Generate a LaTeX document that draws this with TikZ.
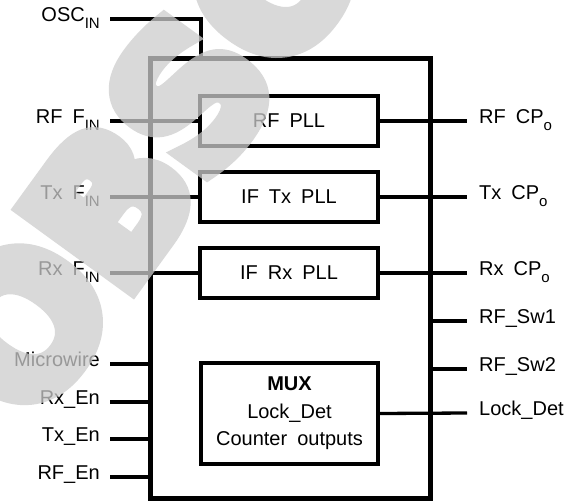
\documentclass[tikz,border=0pt]{standalone}
\usepackage{fontspec}
\setmainfont{Liberation Sans}[WordSpace=1.8]
\newfontfamily\wmfont{DejaVu Sans Bold}[FakeBold=10]
\newcommand\sbx[1]{\raisebox{-0.33em}{\fontsize{15}{15}\selectfont #1}}
\begin{document}
\begin{tikzpicture}[x=1pt,y=-1pt,
  box/.style={draw, line width=4.6pt, inner sep=0pt, outer sep=0pt, font=\fontsize{20}{27.5}\selectfont},
  wire/.style={line width=3.3pt},
  wirek/.style={line width=4.4pt},
  lbl/.style={inner sep=0pt, font=\fontsize{20}{24}\selectfont}]
\useasboundingbox (0,0) rectangle (567,501);
% blocks
\node[box, line width=5pt, minimum width=280pt, minimum height=440pt] (chip) at (290,278) {};
\node[box, minimum width=178pt, minimum height=50pt] (rfpll) at (289,121) {RF PLL};
\node[box, minimum width=178pt, minimum height=50pt] (txpll) at (289,197) {IF Tx PLL};
\node[box, minimum width=178pt, minimum height=50pt] (rxpll) at (289,273) {IF Rx PLL};
\node[box, minimum width=177pt, minimum height=101pt, align=center] (mux) at (289.5,413.5) {\textbf{MUX}\\Lock\_Det\\Counter outputs};
% left ends
\coordinate (osc) at (110,19);
\coordinate (oscj) at (201,58);
\coordinate (rfin) at (110,121);
\coordinate (txin) at (110,197);
\coordinate (rxin) at (110,273);
\coordinate (mw) at (110,364);
\coordinate (rxen) at (110,402);
\coordinate (txen) at (110,439);
\coordinate (rfen) at (110,477);
% right ends
\coordinate (rfcp) at (467,121);
\coordinate (txcp) at (467,197);
\coordinate (rxcp) at (467,273);
\coordinate (sw1) at (467,321);
\coordinate (sw2) at (467,369);
\coordinate (ld) at (467,413);
% left labels
\node[lbl, anchor=mid east] (loscl) at (100,19) {OSC\sbx{IN}};
\node[lbl, anchor=mid east] (lrfin) at (100,121) {RF F\sbx{IN}};
\node[lbl, anchor=mid east] (ltxin) at (100,197) {Tx F\sbx{IN}};
\node[lbl, anchor=mid east] (lrxin) at (100,273) {Rx F\sbx{IN}};
\node[lbl, anchor=mid east] (lmw) at (100,364) {Microwire};
\node[lbl, anchor=mid east] (lrxen) at (100,402) {Rx\_En};
\node[lbl, anchor=mid east] (ltxen) at (100,439) {Tx\_En};
\node[lbl, anchor=mid east] (lrfen) at (100,477) {RF\_En};
% right labels
\node[lbl, anchor=mid west] (lrfcp) at (479,121) {RF CP\sbx{o}};
\node[lbl, anchor=mid west] (ltxcp) at (479,197) {Tx CP\sbx{o}};
\node[lbl, anchor=mid west] (lrxcp) at (479,273) {Rx CP\sbx{o}};
\node[lbl, anchor=mid west] (lsw1) at (479,321) {RF\_Sw1};
\node[lbl, anchor=mid west] (lsw2) at (479,369) {RF\_Sw2};
\node[lbl, anchor=mid west] (lld) at (479,413) {Lock\_Det};
% wires
\draw[wire, line join=miter] (osc) -| (oscj);
\draw[wire] (rfin) -- (rfpll.west);
\draw[wire] (txin) -- (txpll.west);
\draw[wire] (rxin) -- (rxpll.west);
\draw[wire] (mw) -- (mw -| chip.west);
\draw[wirek] (rxen) -- (rxen -| chip.west);
\draw[wirek] (txen) -- (txen -| chip.west);
\draw[wirek] (rfen) -- (rfen -| chip.west);
\draw[wire] (rfpll.east) -- (rfcp);
\draw[wire] (txpll.east) -- (txcp);
\draw[wire] (rxpll.east) -- (rxcp);
\draw[wire] (sw1 -| chip.east) -- (sw1);
\draw[wire] (sw2 -| chip.east) -- (sw2);
\draw[wire] (mux.east) -- (ld);
% watermark
\begin{scope}
\clip (0,0) rectangle (567,501);
\begin{scope}[transparency group, opacity=0.75]
\node[anchor=base west, rotate=54, inner sep=0pt, color=black!20,
  font=\wmfont\fontsize{184}{184}\selectfont] (wm) at (30,427) {OBSOLETE};
\end{scope}
\end{scope}
\end{tikzpicture}
\end{document}
